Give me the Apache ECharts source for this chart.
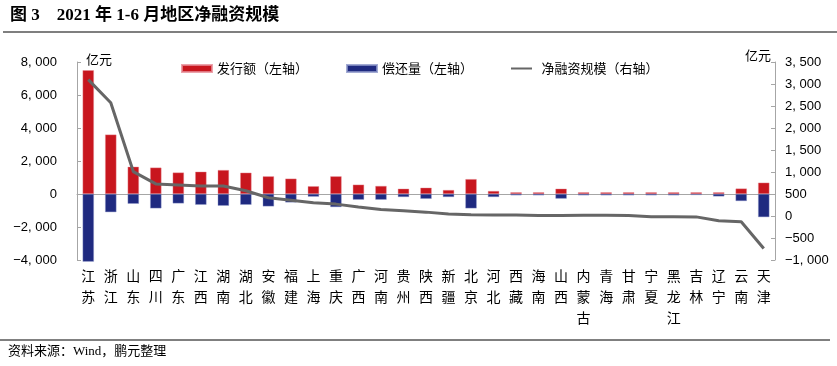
<!DOCTYPE html>
<html><head><meta charset="utf-8">
<script src="https://cdn.jsdelivr.net/npm/echarts@6/dist/echarts.min.js"></script>
<style>html,body{margin:0;padding:0;background:#fff;}#c{width:837px;height:366px;}</style>
</head><body><div id="c"></div>
<script>
const categories = ['江苏','浙江','山东','四川','广东','江西','湖南','湖北','安徽','福建','上海','重庆','广西','河南','贵州','陕西','新疆','北京','河北','西藏','海南','山西','内蒙古','青海','甘肃','宁夏','黑龙江','吉林','辽宁','云南','天津'];
const issuance = [7500,3600,1650,1600,1300,1350,1450,1290,1070,930,470,1070,565,485,320,380,240,900,180,100,100,320,100,100,100,100,100,100,100,330,685];
const repayment = [-4100,-1100,-590,-870,-570,-650,-710,-650,-750,-510,-160,-790,-345,-345,-180,-290,-180,-870,-180,-80,-80,-280,-80,-80,-80,-80,-80,-60,-145,-425,-1400];
const netFinancing = [3100,2575,1010,730,705,680,680,575,415,360,300,270,205,150,120,88,43,30,25,20,10,10,15,15,10,-15,-15,-20,-110,-130,-740];
const leftTicks = {min:-4000, max:8000, interval:2000};
const rightTicks = {min:-1000, max:3500, interval:500};

const fmt = v => { const s = Math.abs(v).toLocaleString('en-US').replace(/,/g, ', '); return (v < 0 ? '\u2212' : '') + s; };
const cjk = '"Noto Sans CJK SC", "Liberation Sans", sans-serif';
const chart = echarts.init(document.getElementById('c'), null, {renderer:'canvas'});
chart.setOption({
  animation: false,
  backgroundColor: '#fff',
  grid: {left: 77, right: 62, top: 62, bottom: 106, containLabel: false},
  legend: {
    left: 176, top: 57, itemGap: 38, itemWidth: 30, itemHeight: 7,
    textStyle: {fontSize: 13, color: '#000', fontFamily: cjk},
    data: [{name:'发行额（左轴）', icon:'rect'}, {name:'偿还量（左轴）', icon:'rect'},
           {name:'净融资规模（右轴）', icon:'path://M0,0H30V0.01H0Z M0,3.5H30V6.5H0Z M0,9.99H30V10H0Z', itemStyle: {color: '#666666'}}]
  },
  xAxis: [{
    type: 'category', data: categories, position: 'bottom',
    axisLine: {show: false, onZero: false}, axisTick: {show: false},
    axisLabel: {interval: 0, margin: 5, fontSize: 14, lineHeight: 21, color: '#000', fontFamily: cjk,
      formatter: v => v.split('').join('\n')}
  }, {
    type: 'category', data: categories, position: 'bottom',
    axisLine: {show: true, onZero: true, onZeroAxisIndex: 0, lineStyle: {color: '#a6a6a6', width: 1}},
    axisTick: {show: false}, axisLabel: {show: false}
  }],
  yAxis: [{
    type: 'value', min: leftTicks.min, max: leftTicks.max, interval: leftTicks.interval,
    axisLine: {show: true, lineStyle: {color: '#a6a6a6'}},
    axisTick: {show: true, inside: true, length: 4, lineStyle: {color: '#a6a6a6'}},
    splitLine: {show: false},
    axisLabel: {formatter: fmt, fontSize: 13, color: '#000', margin: 20, fontFamily: '"Liberation Sans", Arial, sans-serif'}
  }, {
    type: 'value', min: rightTicks.min, max: rightTicks.max, interval: rightTicks.interval, position: 'right',
    axisLine: {show: true, lineStyle: {color: '#a6a6a6'}},
    axisTick: {show: true, inside: true, length: 4, lineStyle: {color: '#a6a6a6'}},
    splitLine: {show: false},
    axisLabel: {formatter: fmt, fontSize: 13, color: '#000', margin: 10, fontFamily: '"Liberation Sans", Arial, sans-serif'}
  }],
  series: [{
    name: '发行额（左轴）', type: 'bar', data: issuance, stack: 'a', barWidth: '50%', clip: false,
    itemStyle: {color: '#c8161e', borderColor: 'rgba(230,140,150,0.8)', borderWidth: 0.5}
  }, {
    name: '偿还量（左轴）', type: 'bar', data: repayment, stack: 'a', barWidth: '50%', clip: false,
    itemStyle: {color: '#1f2a80', borderColor: 'rgba(140,150,200,0.8)', borderWidth: 0.5}
  }, {
    name: '净融资规模（右轴）', type: 'line', yAxisIndex: 1, data: netFinancing,
    showSymbol: false, symbol: 'none', lineStyle: {color: '#666666', width: 3}, itemStyle: {color: '#666666'}
  }],
  graphic: [
    {type: 'text', left: 10, top: 7, style: {text: '图 3    2021 年 1-6 月地区净融资规模', font: 'bold 17px "Liberation Serif", "Noto Sans CJK SC"', fill: '#000'}},
    {type: 'line', shape: {x1: 3, y1: 32, x2: 837, y2: 32}, style: {stroke: '#000', lineWidth: 1.2}},
    {type: 'text', left: 86, top: 53, style: {text: '亿元', font: '13px "Noto Sans CJK SC"', fill: '#000'}},
    {type: 'text', left: 745, top: 49, style: {text: '亿元', font: '13px "Noto Sans CJK SC"', fill: '#000'}},
    {type: 'line', shape: {x1: 0, y1: 340, x2: 830, y2: 340}, style: {stroke: '#000', lineWidth: 1}},
    {type: 'text', left: 8, top: 345, style: {text: '资料来源：Wind，鹏元整理', font: '13px "Liberation Serif", "Noto Sans CJK SC"', fill: '#000'}}
  ]
});
</script></body></html>
